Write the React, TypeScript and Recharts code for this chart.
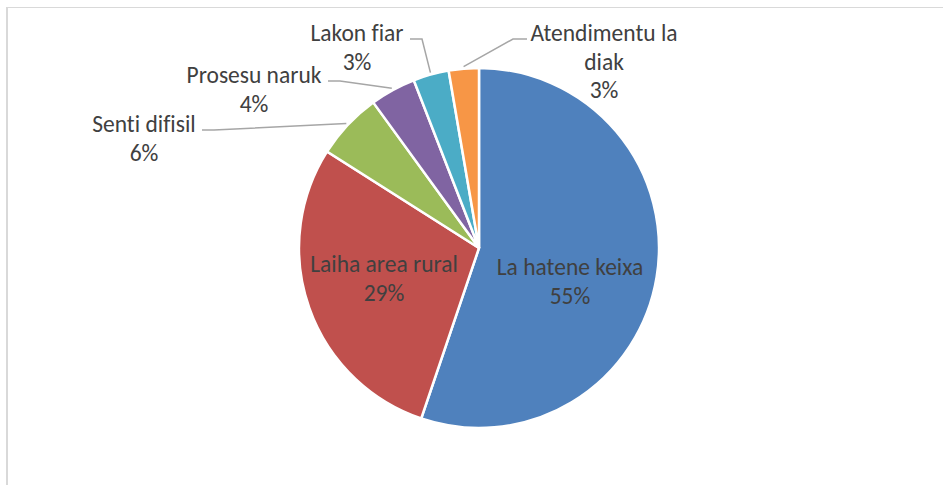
import { PieChart, Pie, Cell } from 'recharts';

const categories = ['La hatene keixa', 'Laiha area rural', 'Senti difisil', 'Prosesu naruk', 'Lakon fiar', 'Atendimentu la diak'];
const shares = [55.2, 28.8, 6.0, 4.1, 3.2, 2.7];
const colors = ['#4F81BD', '#C0504D', '#9BBB59', '#8064A2', '#4BACC6', '#F79646'];

// label placement relative to the pie centre (first text line centre); lead = leader start x offset
const labelLayout = [
  { dx: 91, dy: 19 },
  { dx: -95, dy: 16 },
  { dx: -335, dy: -124, lead: -277, elbow: 12 },
  { dx: -225, dy: -173, lead: -151, elbow: 12 },
  { dx: -122, dy: -215, lead: -69, elbow: 12 },
  { dx: 125, dy: -215, lead: 48, elbow: -14 },
];

const data = categories.map((name, i) => ({ name, value: shares[i] }));

const RAD = Math.PI / 180;
const FONT = 'Carlito, Lato, sans-serif';
const LINE_H = 28.5;

const wrap = (s: string) => {
  if (s.length <= 17) return [s];
  const k = s.lastIndexOf(' ');
  return [s.slice(0, k), s.slice(k + 1)];
};

const renderLabel = (props: any) => {
  const { cx, cy, midAngle, outerRadius, percent, index } = props;
  const lay = labelLayout[index];
  const lines = [...wrap(categories[index]), `${Math.round(percent * 100)}%`];
  const tx = cx + lay.dx;
  const ty = cy + lay.dy;
  let leader = null;
  if (lay.lead !== undefined) {
    const ex = cx + (outerRadius + 2) * Math.cos(-midAngle * RAD);
    const ey = cy + (outerRadius + 2) * Math.sin(-midAngle * RAD);
    const sx = cx + lay.lead;
    const sy = ty + 6;
    leader = (
      <polyline
        points={`${sx},${sy} ${sx + lay.elbow},${sy} ${ex},${ey}`}
        fill="none"
        stroke="#A6A6A6"
        strokeWidth={1.5}
      />
    );
  }
  return (
    <g>
      {leader}
      <text
        x={tx}
        y={ty}
        textAnchor="middle"
        fill="#404040"
        fontFamily={FONT}
        fontSize={23.5}
        style={{ fontVariantLigatures: 'none' }}
      >
        {lines.map((l, i) => (
          <tspan key={i} x={tx} y={ty + i * LINE_H} dominantBaseline="central">
            {l}
          </tspan>
        ))}
      </text>
    </g>
  );
};

export default function App() {
  return (
    <div
      style={{
        position: 'absolute',
        left: 6,
        top: 7,
        width: 937,
        height: 478,
        borderLeft: '2px solid #D9D9D9',
        borderTop: '1px solid #D9D9D9',
        background: '#fff',
      }}
    >
      <PieChart width={937} height={477} margin={{ top: 0, right: 0, bottom: 0, left: 0 }}>
        <Pie
          data={data}
          dataKey="value"
          nameKey="name"
          cx={471}
          cy={240}
          outerRadius={180}
          startAngle={90}
          endAngle={-270}
          stroke="#fff"
          strokeWidth={2.5}
          labelLine={false}
          label={renderLabel}
          isAnimationActive={false}
        >
          {data.map((d, i) => (
            <Cell key={d.name} fill={colors[i]} />
          ))}
        </Pie>
      </PieChart>
    </div>
  );
}
